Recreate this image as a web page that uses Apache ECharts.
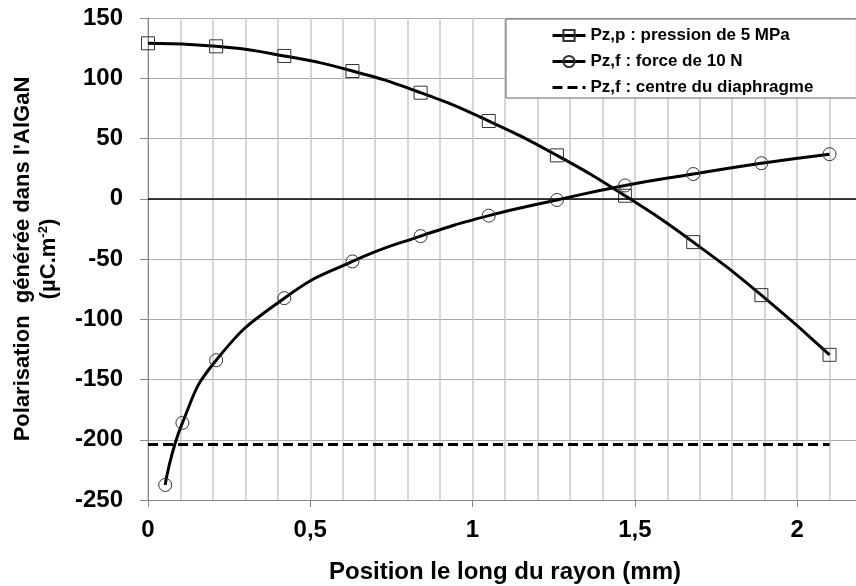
<!DOCTYPE html>
<html>
<head>
<meta charset="utf-8">
<script src="https://cdn.jsdelivr.net/npm/echarts@6/dist/echarts.min.js"></script>
<style>
html,body{margin:0;padding:0;background:#fff;}
#c{width:856px;height:586px;}
</style>
</head>
<body>
<div id="c"></div>
<script>
// Data
var xPression = [0, 0.21, 0.42, 0.63, 0.84, 1.05, 1.26, 1.47, 1.68, 1.89, 2.1];
var yPression = [129, 126.5, 118.5, 106, 88, 64.5, 36, 2.5, -36, -80, -129.5];
var xForce = [0.053, 0.106, 0.21, 0.42, 0.63, 0.84, 1.05, 1.26, 1.47, 1.68, 1.89, 2.1];
var yForce = [-237.5, -186, -134, -82.5, -52, -31, -14, -1, 11, 20.5, 29.5, 37];
var xCentre = [0, 2.1];
var yCentre = [-204, -204];
var xTickLabels = [0, 0.5, 1, 1.5, 2];
var seriesNames = ['Pz,p : pression de 5 MPa', 'Pz,f : force de 10 N', 'Pz,f : centre du diaphragme'];
var xTitle = 'Position le long du rayon (mm)';
var yTitleLine1 = "Polarisation  générée dans l'AlGaN";
var yTitleLine2 = '(µC.m{s|-2})';

function pairs(xs, ys) { return xs.map(function (x, i) { return [x, ys[i]]; }); }

var FONT = 'Liberation Sans, Arial, sans-serif';
var chart = echarts.init(document.getElementById('c'), null, {renderer: 'canvas'});
chart.setOption({
  animation: false,
  backgroundColor: '#fff',
  grid: {left: 148, top: 18, width: 714, height: 482, outerBoundsMode: 'none', containLabel: false},
  legend: {
    orient: 'vertical', left: 506, top: 19,
    data: seriesNames,
    itemWidth: 33, itemHeight: 14, itemGap: 9,
    padding: [8, 43, 2, 45],
    borderColor: '#666', borderWidth: 1, backgroundColor: '#fff',
    lineStyle: {width: 3},
    textStyle: {fontFamily: FONT, fontWeight: 'bold', fontSize: 17, color: '#000'}
  },
  xAxis: [{
    type: 'value', min: 0, max: 2.2, interval: 0.5,
    name: xTitle, nameLocation: 'middle', nameGap: 60,
    nameTextStyle: {fontFamily: FONT, fontWeight: 'bold', fontSize: 24, color: '#000'},
    axisLine: {show: true, onZero: false, lineStyle: {color: '#888', width: 1}},
    axisTick: {show: true, length: 7, customValues: xTickLabels, lineStyle: {color: '#888'}},
    axisLabel: {customValues: xTickLabels, margin: 18, fontFamily: FONT, fontWeight: 'bold', fontSize: 24, color: '#000',
      formatter: function (v) { return String(v).replace('.', ','); }},
    splitLine: {show: false},
    z: 3
  }, {
    type: 'value', min: 0, max: 2.2, interval: 0.1, position: 'bottom',
    axisLine: {show: false}, axisTick: {show: false}, axisLabel: {show: false},
    splitLine: {show: true, lineStyle: {color: '#c8c8c8', width: 1.5}}
  }],
  yAxis: {
    type: 'value', min: -250, max: 150, interval: 50,
    name: yTitleLine1 + '\n' + yTitleLine2, nameLocation: 'middle', nameGap: 86, nameRotate: 90,
    nameTextStyle: {fontFamily: FONT, fontWeight: 'bold', fontSize: 22, color: '#000', lineHeight: 26,
      rich: {s: {fontFamily: FONT, fontWeight: 'bold', fontSize: 13, color: '#000', padding: [0, 0, 12, 0]}}},
    axisLine: {show: true, lineStyle: {color: '#888', width: 1}},
    axisTick: {show: true, length: 8, lineStyle: {color: '#888'}},
    axisLabel: {margin: 25, fontFamily: FONT, fontWeight: 'bold', fontSize: 24, color: '#000'},
    splitLine: {show: true, lineStyle: {color: '#aaa', width: 1.2}}
  },
  series: [
    {
      name: seriesNames[0], type: 'line', data: pairs(xPression, yPression),
      smooth: 0.5,
      symbol: 'rect', symbolSize: 13,
      lineStyle: {color: '#000', width: 3},
      itemStyle: {color: 'rgba(255,255,255,0)', borderColor: '#333', borderWidth: 1},
      z: 3
    },
    {
      name: seriesNames[1], type: 'line', data: pairs(xForce, yForce),
      smooth: 0.5,
      symbol: 'circle', symbolSize: 13,
      lineStyle: {color: '#000', width: 3},
      itemStyle: {color: 'rgba(255,255,255,0)', borderColor: '#333', borderWidth: 1},
      z: 3
    },
    {
      name: seriesNames[2], type: 'line', data: pairs(xCentre, yCentre),
      symbol: 'none', showSymbol: false,
      lineStyle: {color: '#000', width: 3, type: [10, 5]},
      itemStyle: {color: 'rgba(0,0,0,0)', borderWidth: 0},
      markLine: {
        silent: true, symbol: 'none', label: {show: false},
        lineStyle: {color: '#000', width: 1.5, type: 'solid'},
        data: [{yAxis: 0}]
      },
      z: 2
    }
  ]
});
</script>
</body>
</html>
